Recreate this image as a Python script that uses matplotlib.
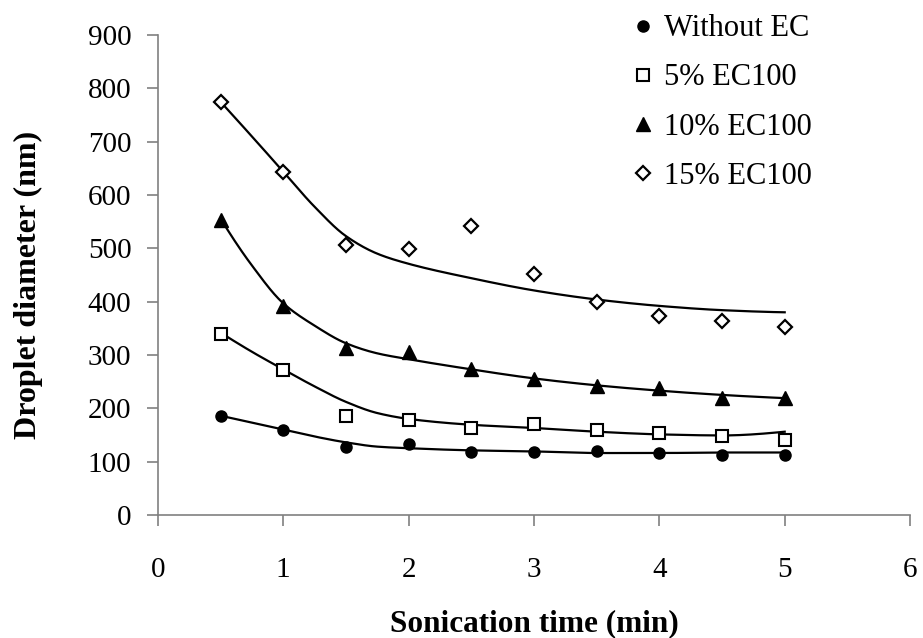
import numpy as np
import matplotlib
matplotlib.use("Agg")
import matplotlib.pyplot as plt

# measured data points
time_min = [0.5, 1.0, 1.5, 2.0, 2.5, 3.0, 3.5, 4.0, 4.5, 5.0]
without_ec = [186, 159, 128, 133, 117, 117, 120, 116, 113, 113]
ec5 = [339, 271, 186, 178, 163, 170, 159, 154, 148, 140]
ec10 = [554, 391, 313, 305, 273, 254, 242, 238, 219, 219]
ec15 = [775, 644, 506, 498, 542, 452, 400, 373, 364, 353]

# trend-line values
trend_time = [0.5, 0.75, 1.0, 1.25, 1.5, 1.75, 2.0, 2.5, 3.0, 3.5, 4.0, 4.5, 5.0]
trend_without_ec = [186, 173, 160, 147, 136, 128, 125, 121, 119, 116, 116, 117, 117]
trend_ec5 = [342, 306, 273, 241, 212, 191, 180, 169, 163, 156, 151, 149, 156]
trend_ec10 = [556, 468, 397, 355, 322, 303, 292, 273, 256, 243, 233, 225, 219]
trend_ec15 = [775, 710, 644, 578, 523, 490, 471, 444, 421, 404, 392, 384, 380]

labels = ["Without EC", "5% EC100", "10% EC100", "15% EC100"]
x_ticks = [0, 1, 2, 3, 4, 5, 6]
y_ticks = [0, 100, 200, 300, 400, 500, 600, 700, 800, 900]

plt.rcParams['font.family'] = ['Liberation Serif', 'DejaVu Serif']


def pchip(x, y, xs):
    x = np.asarray(x, float)
    y = np.asarray(y, float)
    h = np.diff(x)
    delta = np.diff(y) / h
    n = len(x)
    d = np.zeros(n)
    for k in range(1, n - 1):
        if delta[k - 1] * delta[k] > 0:
            w1 = 2 * h[k] + h[k - 1]
            w2 = h[k] + 2 * h[k - 1]
            d[k] = (w1 + w2) / (w1 / delta[k - 1] + w2 / delta[k])
        else:
            d[k] = 0.0

    def end_slope(h0, h1, d0, d1):
        s = ((2 * h0 + h1) * d0 - h0 * d1) / (h0 + h1)
        if np.sign(s) != np.sign(d0):
            s = 0.0
        elif np.sign(d0) != np.sign(d1) and abs(s) > abs(3 * d0):
            s = 3 * d0
        return s

    d[0] = end_slope(h[0], h[1], delta[0], delta[1])
    d[-1] = end_slope(h[-1], h[-2], delta[-1], delta[-2])
    idx = np.clip(np.searchsorted(x, xs) - 1, 0, n - 2)
    t = (xs - x[idx]) / h[idx]
    h00 = 2 * t ** 3 - 3 * t ** 2 + 1
    h10 = t ** 3 - 2 * t ** 2 + t
    h01 = -2 * t ** 3 + 3 * t ** 2
    h11 = t ** 3 - t ** 2
    return (h00 * y[idx] + h10 * h[idx] * d[idx]
            + h01 * y[idx + 1] + h11 * h[idx] * d[idx + 1])


fig = plt.figure(figsize=(9.23, 6.38), dpi=100)
ax = fig.add_axes([0.171, 0.193, 0.815, 0.752])

series = [without_ec, ec5, ec10, ec15]
trends = [trend_without_ec, trend_ec5, trend_ec10, trend_ec15]
styles = [
    dict(marker='o', markerfacecolor='black', markeredgecolor='black', markersize=8),
    dict(marker='s', markerfacecolor='white', markeredgecolor='black', markersize=8, markeredgewidth=1.5),
    dict(marker='^', markerfacecolor='black', markeredgecolor='black', markersize=10),
    dict(marker='D', markerfacecolor='white', markeredgecolor='black', markersize=7, markeredgewidth=1.6),
]

x = np.array(time_min)
xs = np.linspace(min(trend_time), max(trend_time), 400)
for vals, tr, st, lab in zip(series, trends, styles, labels):
    ax.plot(xs, pchip(trend_time, tr, xs), color='black', lw=1.6, zorder=2)
    ax.plot(x, vals, linestyle='none', label=lab, zorder=3, **st)

ax.set_xlim(0, 6)
ax.set_ylim(0, 900)
ax.set_xticks(x_ticks)
ax.set_yticks(y_ticks)
ax.tick_params(axis='both', direction='out', length=8, width=1.2, color='#808080',
               labelsize=21)
ax.tick_params(axis='x', pad=22)
ax.tick_params(axis='y', pad=11)
for s in ['top', 'right']:
    ax.spines[s].set_visible(False)
for s in ['left', 'bottom']:
    ax.spines[s].set_color('#808080')
    ax.spines[s].set_linewidth(1.2)

ax.set_xlabel("Sonication time (min)", fontsize=22.5, fontweight='bold', labelpad=19)
ax.set_ylabel("Droplet diameter (nm)", fontsize=23, fontweight='bold')
ax.yaxis.set_label_coords(-0.153, 0.479)

leg = ax.legend(loc='upper left', bbox_to_anchor=(0.61, 1.069), frameon=False,
                fontsize=22, handletextpad=0.25, labelspacing=0.66, handlelength=0.9,
                borderaxespad=0)

fig.savefig("out.png", dpi=100)
